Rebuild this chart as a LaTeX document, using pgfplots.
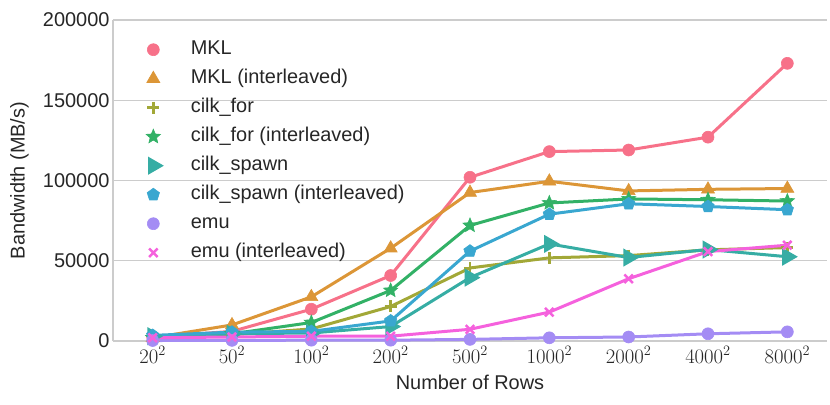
\documentclass[border=0pt]{standalone}
\usepackage{fontspec}
\setmainfont{Liberation Sans}
\usepackage{pgfplots}
\usepackage{pgfplotstable}
\pgfplotsset{compat=1.18}
\usetikzlibrary{plotmarks}
\definecolor{c1}{HTML}{F77189}
\definecolor{c2}{HTML}{DC9637}
\definecolor{c3}{HTML}{A2A837}
\definecolor{c4}{HTML}{32B166}
\definecolor{c5}{HTML}{36ADA4}
\definecolor{c6}{HTML}{39A7D0}
\definecolor{c7}{HTML}{A48CF4}
\definecolor{c8}{HTML}{F561DD}
\definecolor{txt}{HTML}{262626}
\pgfdeclareplotmark{fstar}{%
  \pgfpathmoveto{\pgfpointpolar{90}{\pgfplotmarksize}}%
  \pgfpathlineto{\pgfpointpolar{126}{0.45\pgfplotmarksize}}%
  \pgfpathlineto{\pgfpointpolar{162}{\pgfplotmarksize}}%
  \pgfpathlineto{\pgfpointpolar{198}{0.45\pgfplotmarksize}}%
  \pgfpathlineto{\pgfpointpolar{234}{\pgfplotmarksize}}%
  \pgfpathlineto{\pgfpointpolar{270}{0.45\pgfplotmarksize}}%
  \pgfpathlineto{\pgfpointpolar{306}{\pgfplotmarksize}}%
  \pgfpathlineto{\pgfpointpolar{342}{0.45\pgfplotmarksize}}%
  \pgfpathlineto{\pgfpointpolar{18}{\pgfplotmarksize}}%
  \pgfpathlineto{\pgfpointpolar{54}{0.45\pgfplotmarksize}}%
  \pgfpathclose
  \pgfusepathqfillstroke
}
\pgfplotstableread{
x mkl mkli cf cfi cs csi emu emui
0 2500 2000 2000 2000 3000 3500 300 2000
1 6000 10000 4000 4500 4500 5500 400 2500
2 19800 27500 7500 11500 5000 6000 500 3000
3 40800 57800 21500 31500 9000 12500 500 3000
4 102000 92500 45500 72000 39500 56000 1000 7300
5 118000 99500 51800 86000 60500 79000 2000 18000
6 119000 93500 53200 88500 52000 85500 2500 38800
7 127000 94500 56800 88000 57000 83800 4500 55700
8 173000 95000 58200 87200 52500 81800 5700 59700
}\data
\begin{document}
\begin{tikzpicture}
\begin{axis}[
  name=ax,
  scale only axis,
  width=714bp, height=321bp,
  xmin=-0.5, xmax=8.5, ymin=0, ymax=200000,
  clip=false,
  scaled y ticks=false,
  axis x line*=bottom, axis y line*=left,
  axis line style={draw=black!20, line width=1.2bp},
  xtick={0,...,8},
  xticklabels={$20^2$,$50^2$,$100^2$,$200^2$,$500^2$,$1000^2$,$2000^2$,$4000^2$,$8000^2$},
  ytick={0,50000,100000,150000,200000},
  yticklabels={0,50000,100000,150000,200000},
  major tick length=0pt,
  ymajorgrids,
  grid style={draw=black!20, line width=1.1bp},
  tick label style={font=\fontsize{20}{24}\selectfont, text=txt},
  xticklabel style={yshift=-2bp},
  label style={font=\fontsize{20}{24}\selectfont, text=txt},
  xlabel={Number of Rows},
  ylabel={Bandwidth (MB/s)},
  xlabel style={at={(axis description cs:0.5,-0.128)}, anchor=center},
  ylabel style={at={(axis description cs:-0.131,0.5)}, anchor=center},
  every axis plot/.append style={line width=3bp, mark options={solid, line width=0.6bp}},
  legend image code/.code={\draw[#1] plot coordinates {(0bp,0bp)};},
  legend cell align=left,
  legend style={at={(0,1)}, anchor=north west, xshift=33bp, yshift=-20bp,
    draw=none, fill=none, inner sep=0pt, row sep=10bp,
    font=\fontsize{20}{24}\selectfont, text=txt,
    nodes={inner sep=0pt, text height=14bp, text depth=5bp},
    /tikz/every odd column/.append style={column sep=30bp}},
]
\addplot[color=c1, mark=*, mark size=6bp] table[x=x,y=mkl]{\data};
\addlegendentry{MKL}
\addplot[color=c2, mark=triangle*, mark size=7.5bp] table[x=x,y=mkli]{\data};
\addlegendentry{MKL (interleaved)}
\addplot[color=c3, mark=+, mark size=6bp, mark options={line width=2.5bp}] table[x=x,y=cf]{\data};
\addlegendentry{cilk\_for}
\addplot[color=c4, mark=fstar, mark size=7.5bp] table[x=x,y=cfi]{\data};
\addlegendentry{cilk\_for (interleaved)}
\addplot[color=c5, mark=triangle*, mark size=7.5bp, mark options={rotate=-90}] table[x=x,y=cs]{\data};
\addlegendentry{cilk\_spawn}
\addplot[color=c6, mark=pentagon*, mark size=6.5bp] table[x=x,y=csi]{\data};
\addlegendentry{cilk\_spawn (interleaved)}
\addplot[color=c7, mark=*, mark size=6bp] table[x=x,y=emu]{\data};
\addlegendentry{emu}
\addplot[color=c8, mark=x, mark size=6bp, mark options={line width=2.5bp}] table[x=x,y=emui]{\data};
\addlegendentry{emu (interleaved)}
\end{axis}
\pgfresetboundingbox
\path (ax.south west) ++(-113bp,-64bp) rectangle ++(830bp,405bp);
\end{tikzpicture}
\end{document}
